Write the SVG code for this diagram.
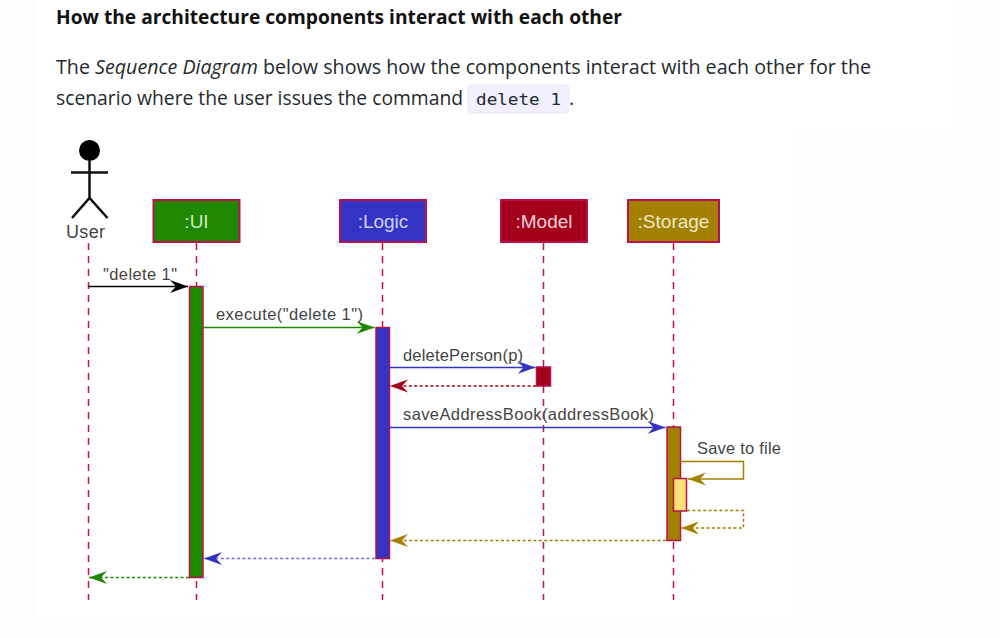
<svg xmlns="http://www.w3.org/2000/svg" width="1000" height="638" viewBox="0 0 1000 638">
<style>
text{font-family:"Open Sans","Liberation Sans",sans-serif}
.body{font-size:19.6px;fill:#24292e}
.lbl{font-family:"Liberation Sans",Arial,sans-serif;font-size:16.5px;fill:#444}
.hd{font-family:"Liberation Sans",Arial,sans-serif;font-size:19px;text-anchor:middle}
.life{stroke:#c2134f;stroke-width:1.5;stroke-dasharray:7 6;fill:none}
.box{stroke:#b8124e;stroke-width:2}
.act{stroke:#b8124e;stroke-width:1.5}
.msg{fill:none;stroke-width:1.5}
.dash{stroke-dasharray:3 2.4}
</style>
<defs>
<marker id="aK" markerUnits="userSpaceOnUse" markerWidth="20" markerHeight="16" refX="18" refY="8" orient="auto"><path d="M0 1.500L18 8L0 14.500L6 8Z" fill="#000"/></marker>
<marker id="aG" markerUnits="userSpaceOnUse" markerWidth="20" markerHeight="16" refX="18" refY="8" orient="auto"><path d="M0 1.500L18 8L0 14.500L6 8Z" fill="#1f8800"/></marker>
<marker id="aB" markerUnits="userSpaceOnUse" markerWidth="20" markerHeight="16" refX="18" refY="8" orient="auto"><path d="M0 1.500L18 8L0 14.500L6 8Z" fill="#3333c4"/></marker>
<marker id="aR" markerUnits="userSpaceOnUse" markerWidth="20" markerHeight="16" refX="18" refY="8" orient="auto"><path d="M0 1.500L18 8L0 14.500L6 8Z" fill="#a3001b"/></marker>
<marker id="aY" markerUnits="userSpaceOnUse" markerWidth="20" markerHeight="16" refX="18" refY="8" orient="auto"><path d="M0 1.500L18 8L0 14.500L6 8Z" fill="#a38000"/></marker>
</defs>
<rect width="1000" height="638" fill="#fff"/>
<rect x="0" y="0" width="35" height="638" fill="#fdfdfd"/>
<rect x="958" y="0" width="42" height="638" fill="#fdfdfd"/>
<rect x="35" y="128" width="762" height="489" fill="#fff"/>
<rect x="35" y="617" width="923" height="21" fill="#fdfdfd"/>
<rect x="797" y="128" width="161" height="489" fill="#fefefe"/>

<g id="page-text">
<text x="56" y="24" font-size="19.500" font-weight="700" fill="#111" textLength="566" lengthAdjust="spacingAndGlyphs">How the architecture components interact with each other</text>
<text class="body" x="56" y="74" textLength="815" lengthAdjust="spacingAndGlyphs">The <tspan font-style="italic">Sequence Diagram</tspan> below shows how the components interact with each other for the</text>
<text class="body" x="56" y="105" textLength="407" lengthAdjust="spacingAndGlyphs">scenario where the user issues the command</text>
<rect x="468" y="85" width="101" height="28" rx="4" fill="#f0f0ff" stroke="#e8e8f4"/>
<text x="476" y="105" font-size="16" fill="#24292e" style="font-family:'DejaVu Sans Mono','Liberation Mono',monospace" textLength="85" lengthAdjust="spacingAndGlyphs">delete 1</text>
<text class="body" x="569" y="105">.</text>
</g>

<g id="lifelines">
<line class="life" x1="88.500" y1="243" x2="88.500" y2="600"/>
<line class="life" x1="196.500" y1="243" x2="196.500" y2="600"/>
<line class="life" x1="382.500" y1="243" x2="382.500" y2="600"/>
<line class="life" x1="543.500" y1="243" x2="543.500" y2="600"/>
<line class="life" x1="673.500" y1="243" x2="673.500" y2="600"/>
</g>

<g id="user">
<circle cx="89.500" cy="150.500" r="10.500" fill="#000"/>
<path d="M89.500 160V198M71 172.500H108M72 218L89.500 198L107.500 218" fill="none" stroke="#111" stroke-width="2.500"/>
<text class="lbl" x="66" y="238" style="font-size:18px" textLength="39">User</text>
</g>
<g id="ui"><rect class="box" x="153.500" y="200" width="86" height="42" fill="#1f8800"/><text class="hd" x="196.500" y="228" fill="#cfe8c8">:UI</text></g>
<g id="logic"><rect class="box" x="340" y="200" width="86" height="42" fill="#3333c4"/><text class="hd" x="383" y="228" fill="#d0d0f4">:Logic</text></g>
<g id="model"><rect class="box" x="501" y="200" width="86" height="42" fill="#a3001b"/><text class="hd" x="544" y="228" fill="#f0d0d8">:Model</text></g>
<g id="storage"><rect class="box" x="628" y="200" width="91" height="42" fill="#a38000"/><text class="hd" x="673.500" y="228" fill="#f0e8c8">:Storage</text></g>

<g id="activations">
<rect class="act" x="189.500" y="286.500" width="13.500" height="291" fill="#1f8800"/>
<rect class="act" x="376" y="327.500" width="13.500" height="231" fill="#3333c4"/>
<rect class="act" x="536.500" y="367" width="14" height="19" fill="#a3001b"/>
<rect class="act" x="667" y="427" width="13.500" height="113.500" fill="#a38000"/>
<rect class="act" x="673.500" y="478.500" width="13" height="32.500" fill="#ffdf77"/>
</g>

<g id="connectors">
<path class="msg" d="M88.500 286.500H188" stroke="#000" marker-end="url(#aK)"/>
<path class="msg" d="M203 327.500H374.500" stroke="#1f8800" marker-end="url(#aG)"/>
<path class="msg" d="M389.500 367.500H535.500" stroke="#3333c4" marker-end="url(#aB)"/>
<path class="msg dash" d="M536 386H390" stroke="#a3001b" marker-end="url(#aR)"/>
<path class="msg" d="M389.500 427.500H665.500" stroke="#3333c4" marker-end="url(#aB)"/>
<path class="msg" d="M680.500 461.500H743.500V479H688" stroke="#a38000" marker-end="url(#aY)"/>
<path class="msg dash" d="M687 510.500H743.500V528H681" stroke="#a38000" marker-end="url(#aY)"/>
<path class="msg dash" d="M666 540.500H390" stroke="#a38000" marker-end="url(#aY)"/>
<path class="msg dash" d="M375 558.500H204" stroke="#6b6be6" stroke-width="2" marker-end="url(#aB)"/>
<path class="msg dash" d="M189 577.500H89" stroke="#1f8800" marker-end="url(#aG)"/>
</g>

<g id="labels">
<text class="lbl" x="103" y="280" textLength="74">"delete 1"</text>
<text class="lbl" x="216" y="320" textLength="147">execute("delete 1")</text>
<text class="lbl" x="403" y="361" textLength="120">deletePerson(p)</text>
<text class="lbl" x="403" y="420" textLength="251">saveAddressBook(addressBook)</text>
<text class="lbl" x="697" y="454" textLength="84">Save to file</text>
</g>
</svg>
